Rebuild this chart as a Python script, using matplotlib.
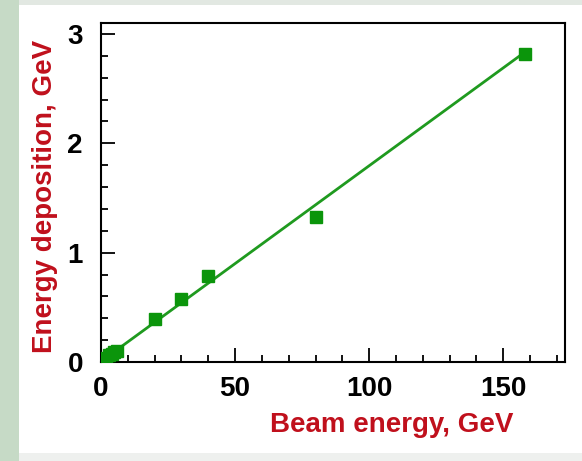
import matplotlib.pyplot as plt
import numpy as np
from matplotlib.patches import Rectangle
from matplotlib.ticker import MultipleLocator

# beam energy (GeV) vs energy deposition (GeV)
beam_e = [1, 2, 3, 4, 5, 6, 20, 30, 40, 80, 158]
e_dep = [0.02, 0.04, 0.06, 0.07, 0.09, 0.10, 0.39, 0.58, 0.79, 1.33, 2.82]

# linear fit drawn through the points
fit_slope = 0.0179
fit_icpt = 0.005
fit_range = [0, 158]

plt.rcParams['font.family'] = ['Liberation Sans', 'DejaVu Sans']
plt.rcParams['font.weight'] = 'bold'

W, H = 582, 461
fig = plt.figure(figsize=(W/100, H/100), dpi=100)
fig.patch.set_facecolor('white')
# slide border: green strip left, faint bands top and bottom
fig.patches.append(Rectangle((0, 0), 19/W, 1, transform=fig.transFigure,
                             facecolor='#c6dac6', edgecolor='none', zorder=0))
fig.patches.append(Rectangle((19/W, 0), 1, 8/H, transform=fig.transFigure,
                             facecolor='#eef0ee', edgecolor='none', zorder=0))
fig.patches.append(Rectangle((19/W, 1 - 5/H), 1, 5/H, transform=fig.transFigure,
                             facecolor='#e2e8e2', edgecolor='none', zorder=0))

ax = fig.add_axes([101/W, 99/H, 464/W, 339/H])
xf = np.array(fit_range)
ax.plot(xf, fit_slope*xf + fit_icpt, color='#1f9a1f', lw=2, zorder=2)
ax.plot(beam_e, e_dep, 's', color='#0b950b', ms=8, zorder=3)

ax.set_xlim(0, 173)
ax.set_ylim(0, 3.1)
ax.xaxis.set_major_locator(MultipleLocator(50))
ax.xaxis.set_minor_locator(MultipleLocator(10))
ax.yaxis.set_major_locator(MultipleLocator(1))
ax.yaxis.set_minor_locator(MultipleLocator(0.2))
ax.tick_params(which='both', direction='in', top=False, right=False, width=1.3)
ax.tick_params(which='major', length=10, labelsize=20)
ax.tick_params(axis='x', which='major', pad=10)
ax.tick_params(axis='y', which='major', pad=13)
ax.tick_params(which='minor', length=5)
for s in ax.spines.values():
    s.set_linewidth(1.5)

fig.text(392/W, 1 - 425/H, 'Beam energy, GeV', color='#c0101c', fontsize=20,
         fontweight='bold', ha='center', va='center')
fig.text(45/W, 1 - 196/H, 'Energy deposition, GeV', color='#c0101c', fontsize=20,
         fontweight='bold', ha='center', va='center', rotation=90)

fig.savefig('out.png', dpi=100)
